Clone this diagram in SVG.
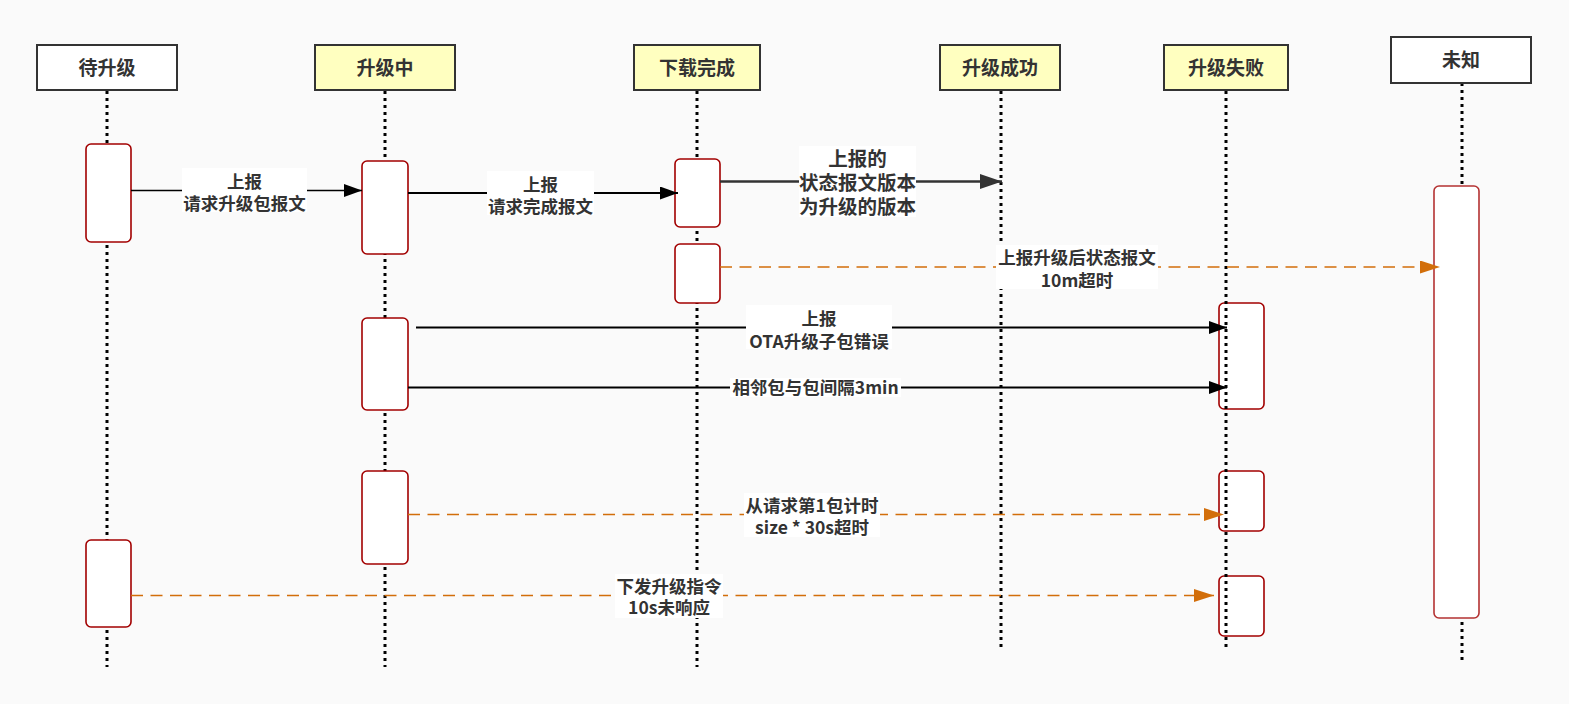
<svg xmlns="http://www.w3.org/2000/svg" width="1569" height="704" viewBox="0 0 1569 704">
<style>
.bg{fill:#fafafa}
.hdr{stroke:#333;stroke-width:2}
.w{fill:#ffffff}
.y{fill:#ffffc0}
.life{stroke:#000;stroke-width:3;stroke-dasharray:3 4;fill:none}
.act{fill:#fff;stroke:#a20000;stroke-width:1.6}
.ht{font-family:"Noto Sans CJK SC","Noto Sans",sans-serif;font-weight:bold;font-size:19px;fill:#333;text-anchor:middle}
.lt{font-family:"Noto Sans CJK SC","Noto Sans",sans-serif;font-weight:bold;font-size:17.5px;fill:#333;text-anchor:middle}
.lb{fill:#fff}
.solid{stroke:#000;fill:none}
.dash{stroke:#d26e0a;stroke-width:1.6;stroke-dasharray:12 7.5;fill:none}
</style>
<defs>
<marker id="blk" markerUnits="userSpaceOnUse" markerWidth="20" markerHeight="14" refX="18" refY="6.5" orient="auto">
<path d="M0,0 L18,6.5 L0,13 z" fill="#000"/>
</marker>
<marker id="dk" markerUnits="userSpaceOnUse" markerWidth="24" markerHeight="16" refX="22" refY="7.5" orient="auto">
<path d="M0,0 L22,7.5 L0,15 z" fill="#333"/>
</marker>
<marker id="org" markerUnits="userSpaceOnUse" markerWidth="22" markerHeight="14" refX="20" refY="6.5" orient="auto">
<path d="M0,0 L20,6.5 L0,13 z" fill="#d26e0a"/>
</marker>
</defs>
<rect class="bg" x="0" y="0" width="1569" height="704"/>

<g id="node-daishengji">
<line class="life" x1="107" y1="91" x2="107" y2="667"/>
<rect class="hdr w" x="37" y="45" width="140" height="45"/>
<text class="ht" x="107" y="74.5">待升级</text>
<rect class="act" x="86" y="144" width="45" height="98" rx="5"/>
<rect class="act" x="86" y="540" width="45" height="87" rx="5"/>
</g>

<g id="node-shengjizhong">
<line class="life" x1="385" y1="91" x2="385" y2="667"/>
<rect class="hdr y" x="315" y="45" width="140" height="45"/>
<text class="ht" x="385" y="74.5">升级中</text>
<rect class="act" x="362" y="161" width="46" height="93" rx="5"/>
<rect class="act" x="362" y="318" width="46" height="92" rx="5"/>
<rect class="act" x="362" y="471" width="46" height="93" rx="5"/>
</g>

<g id="node-xiazaiwancheng">
<line class="life" x1="697" y1="91" x2="697" y2="667"/>
<rect class="hdr y" x="634" y="45" width="126" height="45"/>
<text class="ht" x="697" y="74.5">下载完成</text>
<rect class="act" x="675" y="159" width="45" height="68" rx="5"/>
<rect class="act" x="675" y="244" width="45" height="59" rx="5"/>
</g>

<g id="node-shengjichenggong">
<line class="life" x1="1001" y1="91" x2="1001" y2="651"/>
<rect class="hdr y" x="940" y="45" width="120" height="45"/>
<text class="ht" x="1000" y="74.5">升级成功</text>
</g>

<g id="node-shengjishibai">
<rect class="hdr y" x="1164" y="45" width="124" height="45"/>
<text class="ht" x="1226" y="74.5">升级失败</text>
<rect class="act" x="1219" y="303" width="45" height="106" rx="5"/>
<rect class="act" x="1219" y="471" width="45" height="60" rx="5"/>
<rect class="act" x="1219" y="576" width="45" height="60" rx="5"/>
<line class="life" x1="1226" y1="91" x2="1226" y2="651"/>
</g>

<g id="node-weizhi">
<line class="life" x1="1462" y1="83" x2="1462" y2="660"/>
<rect class="hdr w" x="1391" y="37" width="140" height="46"/>
<text class="ht" x="1461" y="66.5">未知</text>
<rect class="act" x="1434" y="186" width="45" height="432" rx="5" style="stroke:#b43232"/>
</g>

<g id="connectors">
<line class="solid" x1="131" y1="190.5" x2="362" y2="190.5" stroke-width="1.6" marker-end="url(#blk)"/>
<rect class="lb" x="182" y="168" width="125" height="44"/>
<text class="lt" x="244.5" y="188"><tspan x="244.5">上报</tspan><tspan x="244.5" dy="21.5">请求升级包报文</tspan></text>

<line class="solid" x1="408" y1="193" x2="678" y2="193" stroke-width="2" marker-end="url(#blk)"/>
<rect class="lb" x="487" y="171" width="107" height="44"/>
<text class="lt" x="540.5" y="190.5"><tspan x="540.5">上报</tspan><tspan x="540.5" dy="22">请求完成报文</tspan></text>

<line x1="720" y1="181.5" x2="1002" y2="181.5" stroke="#333" stroke-width="2.6" marker-end="url(#dk)"/>
<rect class="lb" x="799" y="146" width="117" height="71"/>
<text class="lt" x="857.5" y="166" style="font-size:19.5px"><tspan x="857.5">上报的</tspan><tspan x="857.5" dy="24">状态报文版本</tspan><tspan x="857.5" dy="23.5">为升级的版本</tspan></text>

<line class="dash" x1="720" y1="267" x2="1440" y2="267" marker-end="url(#org)"/>
<rect class="lb" x="996" y="245" width="162" height="44"/>
<text class="lt" x="1077" y="264"><tspan x="1077">上报升级后状态报文</tspan><tspan x="1077" dy="22.5">10m超时</tspan></text>

<line class="solid" x1="416" y1="327.5" x2="1227" y2="327.5" stroke-width="2" marker-end="url(#blk)"/>
<rect class="lb" x="746" y="305" width="146" height="44"/>
<text class="lt" x="819" y="324.5"><tspan x="819">上报</tspan><tspan x="819" dy="23.5">OTA升级子包错误</tspan></text>

<line class="solid" x1="408" y1="387.5" x2="1227" y2="387.5" stroke-width="2" marker-end="url(#blk)"/>
<rect class="lb" x="730" y="378" width="171" height="19"/>
<text class="lt" x="815.5" y="394">相邻包与包间隔3min</text>

<line class="dash" x1="408" y1="514.5" x2="1224" y2="514.5" marker-end="url(#org)"/>
<rect class="lb" x="744" y="493" width="136" height="44"/>
<text class="lt" x="812" y="511.5"><tspan x="812">从请求第1包计时</tspan><tspan x="812" dy="22">size * 30s超时</tspan></text>

<line class="dash" x1="131" y1="595.5" x2="1214" y2="595.5" marker-end="url(#org)"/>
<rect class="lb" x="615" y="574" width="108" height="44"/>
<text class="lt" x="669" y="592.5"><tspan x="669">下发升级指令</tspan><tspan x="669" dy="21.5">10s未响应</tspan></text>
</g>
</svg>
